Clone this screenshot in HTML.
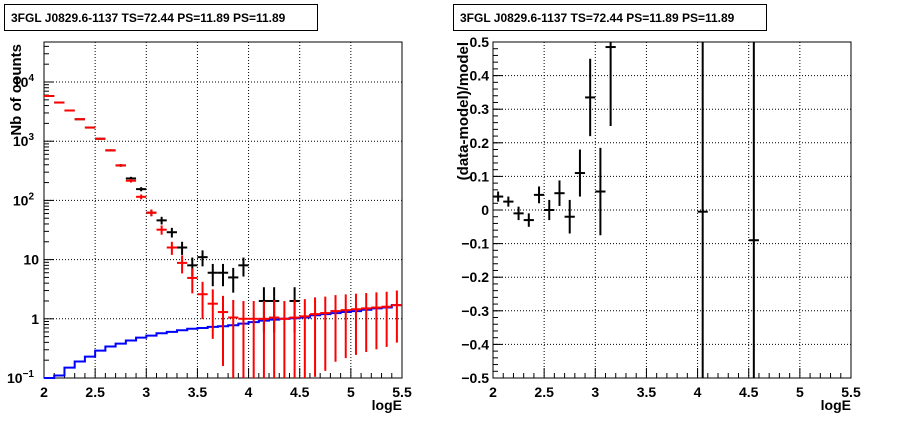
<!DOCTYPE html>
<html><head><meta charset="utf-8"><style>
body{margin:0;background:#fff}
svg{display:block;font-family:"Liberation Sans",Arial,sans-serif;font-weight:bold}
</style></head><body>
<svg id="s" width="898" height="421" viewBox="0 0 898 421">
<rect x="0" y="0" width="898" height="421" fill="#fff"/>
<g><rect x="4.5" y="4.5" width="313" height="26" fill="#fff" stroke="#000"/><text x="11" y="22" font-size="12">3FGL J0829.6-1137 TS=72.44 PS=11.89 PS=11.89</text></g>
<g><rect x="453.5" y="4.5" width="313" height="26" fill="#fff" stroke="#000"/><text x="460" y="22" font-size="12">3FGL J0829.6-1137 TS=72.44 PS=11.89 PS=11.89</text></g>
<g id="L"></g><g id="R"></g>
</svg>
<script>
const binCenters=[2.05,2.15,2.25,2.35,2.45,2.55,2.65,2.75,2.85,2.95,3.05,3.15,3.25,3.35,3.45,3.55,3.65,3.75,3.85,3.95,4.05,4.15,4.25,4.35,4.45,4.55,4.65,4.75,4.85,4.95,5.05,5.15,5.25,5.35,5.45];
const modelCounts=[5800,4500,3300,2350,1700,1100,700,390,215,115,62,32,16,8.8,4.9,2.6,1.8,1.3,1.05,1.0,1.0,1.0,1.05,1.0,1.05,1.1,1.2,1.25,1.35,1.4,1.45,1.5,1.55,1.6,1.7];
const dataCounts=[5800,4500,3300,2350,1700,1100,700,390,235,155,62,46,29,16,8,11,6,6,5,8,0,2,2,0,2,0,0,0,0,0,0,0,0,0,0];
const blueCounts=[0.1,0.11,0.15,0.19,0.23,0.29,0.34,0.38,0.43,0.48,0.52,0.57,0.6,0.64,0.68,0.7,0.73,0.75,0.78,0.83,0.88,0.93,0.97,1.0,1.02,1.05,1.15,1.2,1.25,1.3,1.35,1.42,1.5,1.55,1.7];
const resX=[2.05,2.15,2.25,2.35,2.45,2.55,2.65,2.75,2.85,2.95,3.05,3.15,4.05,4.55];
const resY=[0.04,0.025,-0.01,-0.03,0.045,0,0.05,-0.02,0.11,0.335,0.055,0.485,-0.005,-0.09];
const resErr=[0.015,0.015,0.02,0.02,0.025,0.03,0.038,0.05,0.07,0.115,0.13,0.235,2,2];
const xTicks=["2","2.5","3","3.5","4","4.5","5","5.5"];
const resTicks=["0.5","0.4","0.3","0.2","0.1","0","-0.1","-0.2","-0.3","-0.4","-0.5"];
const NS="http://www.w3.org/2000/svg";
function mk(p,t,a,txt){const e=document.createElementNS(NS,t);for(const k in a)e.setAttribute(k,a[k]);if(txt!==undefined)e.textContent=txt;p.appendChild(e);return e;}
const T=42,B=378;
function frame(g,x0,x1,yfn,yMajor,yMinor){
 const xs=v=>x0+(v-2)/3.5*(x1-x0);
 // grid
 for(let i=0;i<xTicks.length;i++){const x=xs(+xTicks[i]);const l=mk(g,'line',{x1:x,x2:x,y1:T,y2:B,stroke:'#000','stroke-dasharray':'1,2'});}
 yMajor.forEach(v=>{const y=yfn(v);const l=mk(g,'line',{x1:x0,x2:x1,y1:y,y2:y,stroke:'#000','stroke-dasharray':'1,2'});});
 const r=mk(g,'rect',{x:x0,y:T,width:x1-x0,height:B-T,fill:'none',stroke:'#000'});
 
 for(let v=2;v<=5.501;v+=0.1){const x=xs(v);const maj=Math.abs(v*2-Math.round(v*2))<0.01;const tl=mk(g,'line',{x1:x,x2:x,y1:B,y2:B-(maj?10:5),stroke:'#000'});}
 yMajor.forEach(v=>{const y=yfn(v);const tl=mk(g,'line',{x1:x0,x2:x0+10,y1:y,y2:y,stroke:'#000'});});
 yMinor.forEach(v=>{const y=yfn(v);if(y<T||y>B)return;const tl=mk(g,'line',{x1:x0,x2:x0+5,y1:y,y2:y,stroke:'#000'});});
 xTicks.forEach(t=>{const tx=mk(g,'text',{x:xs(+t),y:397,'font-size':'14','text-anchor':'middle'},t);});
 const xt=mk(g,'text',{x:x1,y:410,'font-size':'14','text-anchor':'end'},'logE');
 return xs;
}
// LEFT
const L=document.getElementById('L');

const lx0=44,lx1=402,dec=59.2;
const ly=v=>82-(Math.log10(v)-4)*dec;
const majL=[0.1,1,10,100,1000,10000];let minL=[];
for(let d=-1;d<=4;d++)for(let m=2;m<=9;m++)minL.push(m*Math.pow(10,d));
const xs=frame(L,lx0,lx1,ly,majL,minL);
[["10","−1",0.1],["1","",1],["10","",10],["10","2",100],["10","3",1000],["10","4",10000]].forEach(a=>{
 const t=mk(L,'text',{x:a[1]?34:39,y:ly(a[2])+5,'font-size':'14','text-anchor':'end'},a[0]);
 if(a[1]){mk(t,'tspan',{dy:'-6','font-size':'10'},a[1]);}
 
});
const yl=mk(L,'text',{x:0,y:0,'font-size':'15','text-anchor':'end',transform:'translate(21,44) rotate(-90)'},'Nb of counts');

const bw=358/35;
// blue step
let d='';blueCounts.forEach((v,i)=>{const xa=xs(binCenters[i]-0.05),xb=xs(binCenters[i]+0.05);const y=Math.min(ly(v),B);d+=(i?'L':'M')+xa+','+y+'L'+xb+','+y;});
const bl=mk(L,'path',{d:d,fill:'none',stroke:'#0000ff','stroke-width':2});

const clip=y=>Math.max(T,Math.min(B,y));
function cross(g,xc,v,err,col,name){
 if(v<=0)return;
 const x=xs(xc),y=ly(v);const lo=v-err>0?ly(v-err):B;const hi=ly(v+err);
 const grp=mk(g,'g',{stroke:col,'stroke-width':2});
 
 mk(grp,'line',{x1:x,x2:x,y1:clip(hi),y2:clip(lo)});
 mk(grp,'line',{x1:x-bw/2,x2:x+bw/2,y1:y,y2:y});
}
dataCounts.forEach((v,i)=>cross(L,binCenters[i],v,Math.sqrt(v),'#000','data-point'));
modelCounts.forEach((v,i)=>cross(L,binCenters[i],v,Math.sqrt(v),'#ff0000','model-point'));
// RIGHT
const R=document.getElementById('R');

const rx0=493,rx1=851;
const ry=v=>T+(0.5-v)*(B-T);
const majR=resTicks.map(Number);let minR=[];for(let k=-50;k<=50;k+=2)minR.push(k/100);
const xs2=frame(R,rx0,rx1,ry,majR,minR);
resTicks.forEach(t=>{const tx=mk(R,'text',{x:489,y:ry(+t)+5,'font-size':'14','text-anchor':'end'},t.replace('-','−'));});
const yr=mk(R,'text',{x:0,y:0,'font-size':'15','text-anchor':'end',transform:'translate(468,42) rotate(-90)'},'(data-model)/model');

resX.forEach((xc,i)=>{
 const x=xs2(xc),y=ry(resY[i]);
 const grp=mk(R,'g',{stroke:'#000','stroke-width':2});
 
 mk(grp,'line',{x1:x,x2:x,y1:clip(ry(resY[i]+resErr[i])),y2:clip(ry(resY[i]-resErr[i]))});
 if(y>=T&&y<=B)mk(grp,'line',{x1:x-bw/2,x2:x+bw/2,y1:y,y2:y});
});
</script>
</body></html>
